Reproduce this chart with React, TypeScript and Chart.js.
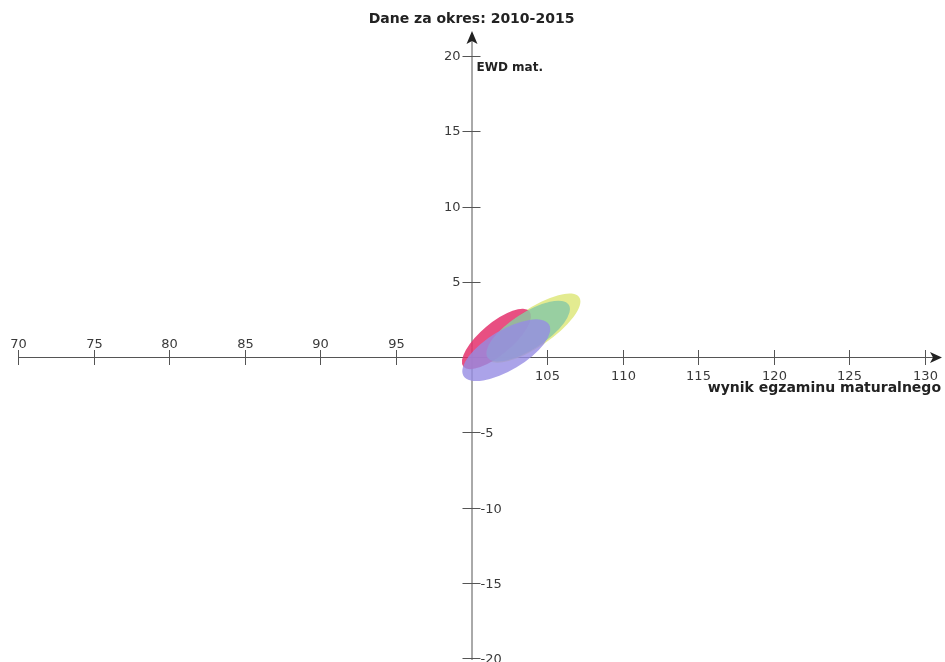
import React, { useEffect, useRef } from "react";
import { Chart, registerables } from "chart.js";

Chart.register(...registerables);

// ---- data ----
const titleText = "Dane za okres: 2010-2015";
const xAxisTitle = "wynik egzaminu maturalnego";
const yAxisTitle = "EWD mat.";
const xTicks = [70, 75, 80, 85, 90, 95, 100, 105, 110, 115, 120, 125, 130];
const yTicks = [-20, -15, -10, -5, 0, 5, 10, 15, 20];
const originX = 100;
const originY = 0;

// ellipses (drawn in this order)
const ellipseNames = ["żółta", "czerwona", "zielona", "fioletowa"];
const centerX = [104.1, 101.65, 103.75, 102.3];
const centerY = [1.92, 1.2, 1.72, 0.45];
const semiMajor = [3.65, 2.85, 3.2, 3.3];
const semiMinor = [1.25, 1.05, 1.2, 1.32];
const angleDeg = [34, 40, 33, 31];
const fillColors = [
  "rgba(222,232,125,0.85)",
  "rgba(228,48,108,0.85)",
  "rgba(140,202,165,0.85)",
  "rgba(150,140,228,0.8)",
];

const FONT = "'DejaVu Sans', sans-serif";

const axesPlugin = {
  id: "customAxes",
  beforeDatasetsDraw(chart: any) {
    const ctx = chart.ctx;
    const ax = chart.scales.x;
    const ay = chart.scales.y;
    const x0 = ax.getPixelForValue(originX);
    const y0 = ay.getPixelForValue(originY);
    ctx.save();
    ctx.strokeStyle = "#555";
    ctx.lineWidth = 1;

    // x axis line
    const xEnd = ax.right + 17;
    ctx.beginPath();
    ctx.moveTo(ax.left, y0 + 0.5);
    ctx.lineTo(xEnd - 4, y0 + 0.5);
    ctx.stroke();
    ctx.fillStyle = "#222";
    ctx.beginPath();
    ctx.moveTo(xEnd, y0 + 0.5);
    ctx.lineTo(xEnd - 12, y0 - 5);
    ctx.lineTo(xEnd - 9, y0 + 0.5);
    ctx.lineTo(xEnd - 12, y0 + 6);
    ctx.closePath();
    ctx.fill();

    // y axis line
    const yTop = ay.top - 25;
    ctx.beginPath();
    ctx.moveTo(x0 + 0.5, ay.bottom + 2);
    ctx.lineTo(x0 + 0.5, yTop + 4);
    ctx.stroke();
    ctx.beginPath();
    ctx.moveTo(x0 + 0.5, yTop);
    ctx.lineTo(x0 - 5, yTop + 13);
    ctx.lineTo(x0 + 0.5, yTop + 10);
    ctx.lineTo(x0 + 6, yTop + 13);
    ctx.closePath();
    ctx.fill();

    // x ticks
    ctx.font = `13px ${FONT}`;
    ctx.fillStyle = "#3a3a3a";
    ctx.textAlign = "center";
    xTicks.forEach((v) => {
      if (v === originX) return;
      const px = Math.round(ax.getPixelForValue(v)) + 0.5;
      ctx.beginPath();
      ctx.moveTo(px, y0 - 7);
      ctx.lineTo(px, y0 + 8);
      ctx.stroke();
      if (v < originX) {
        ctx.textBaseline = "bottom";
        ctx.fillText(String(v), px, y0 - 6);
      } else {
        ctx.textBaseline = "top";
        ctx.fillText(String(v), px, y0 + 13);
      }
    });

    // y ticks
    yTicks.forEach((v) => {
      if (v === originY) return;
      const py = Math.round(ay.getPixelForValue(v)) + 0.5;
      ctx.beginPath();
      ctx.moveTo(x0 - 9, py);
      ctx.lineTo(x0 + 9, py);
      ctx.stroke();
      ctx.textBaseline = "middle";
      if (v > 0) {
        ctx.textAlign = "right";
        ctx.fillText(String(v), x0 - 11, py);
      } else {
        ctx.textAlign = "left";
        ctx.fillText(String(v), x0 + 9, py + 1);
      }
    });

    // titles
    ctx.fillStyle = "#222";
    ctx.font = `bold 14px ${FONT}`;
    ctx.textAlign = "center";
    ctx.textBaseline = "middle";
    ctx.fillText(titleText, x0, 19);
    ctx.textAlign = "right";
    ctx.fillText(xAxisTitle, ax.right + 16, y0 + 31);
    ctx.font = `bold 12px ${FONT}`;
    ctx.textAlign = "left";
    ctx.fillText(yAxisTitle, x0 + 5, ay.getPixelForValue(20) + 12);
    ctx.restore();
  },
  afterDatasetsDraw(chart: any) {
    const ctx = chart.ctx;
    const ax = chart.scales.x;
    const ay = chart.scales.y;
    const kx = Math.abs(ax.getPixelForValue(1) - ax.getPixelForValue(0));
    ctx.save();
    chart.data.datasets.forEach((ds: any, i: number) => {
      const p = ds.data[0];
      const cx = ax.getPixelForValue(p.x);
      const cy = ay.getPixelForValue(p.y);
      ctx.beginPath();
      ctx.ellipse(
        cx,
        cy,
        semiMajor[i] * kx,
        semiMinor[i] * kx,
        (-angleDeg[i] * Math.PI) / 180,
        0,
        Math.PI * 2
      );
      ctx.fillStyle = fillColors[i];
      ctx.fill();
    });
    ctx.restore();
  },
};

export default function App() {
  const ref = useRef<HTMLCanvasElement | null>(null);
  useEffect(() => {
    if (!ref.current) return;
    const chart = new Chart(ref.current, {
      type: "scatter",
      data: {
        datasets: ellipseNames.map((name, i) => ({
          label: name,
          data: [{ x: centerX[i], y: centerY[i] }],
          pointRadius: 0,
          pointHoverRadius: 0,
        })),
      },
      options: {
        animation: false,
        responsive: false,
        events: [],
        layout: { padding: { left: 18, right: 20, top: 56, bottom: 4 } },
        scales: {
          x: { type: "linear", min: xTicks[0], max: xTicks[xTicks.length - 1], display: false },
          y: { type: "linear", min: yTicks[0], max: yTicks[yTicks.length - 1], display: false },
        },
        plugins: { legend: { display: false }, tooltip: { enabled: false }, title: { display: false } },
      },
      plugins: [axesPlugin],
    });
    return () => chart.destroy();
  }, []);
  return (
    <div style={{ position: "fixed", left: 0, top: 0, width: 945, height: 662, background: "#fff" }}>
      <canvas ref={ref} width={945} height={662} style={{ width: 945, height: 662 }} />
    </div>
  );
}
